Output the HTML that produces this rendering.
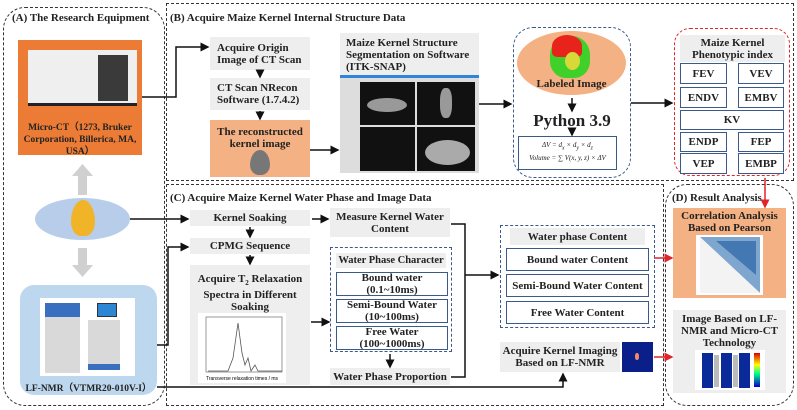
<!DOCTYPE html>
<html><head><meta charset="utf-8"><style>
body{margin:0;width:797px;height:410px;background:#fff;position:relative;overflow:hidden;font-family:"Liberation Serif",serif;font-weight:bold;color:#222}
div{position:absolute;box-sizing:border-box}
.g{background:#eeeeee;display:flex;align-items:center;justify-content:center;text-align:center;font-size:11px;line-height:12px}
.w{background:#fff;border:1.3px solid #3b5a8a;display:flex;align-items:center;justify-content:center;text-align:center;font-size:11px;line-height:12px}
.lab{font-size:11px;white-space:nowrap}
</style></head><body>
<!-- section frames -->
<div style="left:3px;top:7px;width:162px;height:399px;border:1.3px dashed #333;border-radius:22px"></div>
<div style="left:166px;top:3px;width:628px;height:178px;border:1.3px dashed #333"></div>
<div style="left:166px;top:184px;width:498px;height:222px;border:1.3px dashed #333"></div>
<div style="left:665px;top:184px;width:129px;height:222px;border:1.3px dashed #333;border-radius:22px"></div>
<div class="lab" style="left:12px;top:12px">(A) The Research Equipment</div>
<div class="lab" style="left:170px;top:12px">(B) Acquire Maize Kernel Internal Structure Data</div>
<div class="lab" style="left:170px;top:192px">(C) Acquire Maize Kernel Water Phase and Image Data</div>
<div class="lab" style="left:672px;top:192px">(D) Result Analysis</div>

<!-- A -->
<div style="left:18px;top:40px;width:124px;height:115px;background:#ec7c35"></div>
<div style="left:28px;top:50px;width:109px;height:56px;background:#efefef;border-bottom:3px solid #222"><div style="left:70px;top:5px;width:30px;height:46px;background:#3a3a3a"></div></div>
<div style="left:18px;top:122px;width:124px;text-align:center;font-size:9.5px;line-height:12px;color:#222">Micro-CT（1273, Bruker Corporation, Billerica, MA, USA）</div>
<div style="left:35px;top:198px;width:95px;height:42px;background:#b7cdea;border-radius:50%"></div>
<div style="left:71px;top:200px;width:24px;height:36px;background:#f1b328;border-radius:50% 50% 40% 40%/60% 60% 40% 40%"></div>
<div style="left:20px;top:285px;width:137px;height:110px;background:#bdd7ee;border-radius:14px"></div>
<div style="left:40px;top:298px;width:95px;height:78px;background:#fff"></div>
<div style="left:45px;top:303px;width:35px;height:70px;background:#d9d9d9;border-top:14px solid #3a6fc0"></div>
<div style="left:88px;top:320px;width:32px;height:50px;background:#d9d9d9;border-bottom:6px solid #3a6fc0"></div>
<div style="left:97px;top:303px;width:20px;height:14px;background:#2d86d4;border:1px solid #333"></div>
<div style="left:20px;top:380px;width:137px;text-align:center;font-size:9.5px">LF-NMR（VTMR20-010V-I）</div>

<!-- B -->
<div class="g" style="left:210px;top:37px;width:100px;height:33px;text-align:left;justify-content:flex-start;padding-left:7px">Acquire Origin<br>Image of CT Scan</div>
<div class="g" style="left:210px;top:78px;width:100px;height:32px;text-align:left;justify-content:flex-start;padding-left:7px">CT Scan NRecon<br>Software (1.7.4.2)</div>
<div style="left:210px;top:120px;width:100px;height:57px;background:#f4b183;text-align:center;font-size:11px;line-height:12px;padding-top:6px">The reconstructed<br>kernel image</div>
<div style="left:250px;top:150px;width:20px;height:25px;background:#777;border-radius:50% 50% 45% 45%/60% 60% 40% 40%"></div>
<div class="g" style="left:340px;top:33px;width:139px;height:43px;justify-content:flex-start;text-align:left;padding-left:6px">Maize Kernel Structure<br>Segmentation on Software<br>(ITK-SNAP)</div>
<div style="left:340px;top:75px;width:139px;height:3px;background:#2f86d8"></div>
<div style="left:340px;top:78px;width:139px;height:95px;background:#ddd"></div>
<div style="left:360px;top:82px;width:55px;height:43px;background:#111"></div>
<div style="left:417px;top:82px;width:58px;height:43px;background:#111"></div>
<div style="left:360px;top:127px;width:55px;height:44px;background:#111"></div>
<div style="left:417px;top:127px;width:58px;height:44px;background:#111"></div>
<div style="left:367px;top:98px;width:40px;height:14px;background:#999;border-radius:50%"></div>
<div style="left:440px;top:88px;width:12px;height:30px;background:#999;border-radius:40%"></div>
<div style="left:425px;top:140px;width:45px;height:25px;background:#aaa;border-radius:50%"></div>

<div style="left:513px;top:27px;width:118px;height:151px;border:1.3px dashed #3b5a8a;border-radius:20px"></div>
<div style="left:517px;top:31px;width:109px;height:64px;background:#f4b183;border-radius:50%"></div>
<div style="left:550px;top:36px;width:40px;height:42px;background:#3fd02a;border-radius:45% 45% 40% 40%"></div>
<div style="left:552px;top:35px;width:30px;height:22px;background:#e8231c;border-radius:50% 50% 20% 20%"></div>
<div style="left:565px;top:52px;width:15px;height:18px;background:#d9d83a;border-radius:50%"></div>
<div style="left:518px;top:78px;width:107px;text-align:center;font-size:11px">Labeled Image</div>
<div style="left:513px;top:111px;width:118px;text-align:center;font-size:17px">Python 3.9</div>
<div style="left:518px;top:136px;width:99px;height:34px;border:1.2px solid #3b5a8a;text-align:center;font-size:7px;font-weight:normal;font-style:italic;line-height:10px;padding-top:3px">ΔV = d<sub>x</sub> × d<sub>y</sub> × d<sub>z</sub><br>Volume = ∑ V(x, y, z) × ΔV</div>

<div style="left:674px;top:28px;width:116px;height:148px;border:1.3px dashed #e0242a;border-radius:16px"></div>
<div class="g" style="left:680px;top:35px;width:105px;height:27px">Maize Kernel<br>Phenotypic index</div>
<div class="w" style="left:680px;top:63px;width:47px;height:21px">FEV</div>
<div class="w" style="left:738px;top:63px;width:46px;height:21px">VEV</div>
<div class="w" style="left:680px;top:87px;width:47px;height:21px">ENDV</div>
<div class="w" style="left:738px;top:87px;width:46px;height:21px">EMBV</div>
<div class="w" style="left:680px;top:110px;width:104px;height:20px">KV</div>
<div class="w" style="left:680px;top:132px;width:47px;height:20px">ENDP</div>
<div class="w" style="left:738px;top:132px;width:46px;height:20px">FEP</div>
<div class="w" style="left:680px;top:153px;width:47px;height:21px">VEP</div>
<div class="w" style="left:738px;top:153px;width:46px;height:21px">EMBP</div>

<!-- C -->
<div class="g" style="left:190px;top:210px;width:120px;height:16px">Kernel Soaking</div>
<div class="g" style="left:190px;top:238px;width:120px;height:16px">CPMG Sequence</div>
<div style="left:190px;top:265px;width:120px;height:120px;background:#eeeeee;text-align:center;font-size:11px;line-height:12px;padding-top:8px">Acquire T<sub style="font-size:7px">2</sub> Relaxation<br>Spectra in Different Soaking<br>Time</div>
<div style="left:198px;top:313px;width:88px;height:70px;background:#fff">
<svg width="88" height="70"><rect x="8" y="4" width="76" height="55" fill="none" stroke="#555" stroke-width="0.6"/><polyline points="10,58 30,58 35,45 40,10 44,40 47,52 50,45 53,58 57,52 60,58 84,58" fill="none" stroke="#555" stroke-width="0.8"/><text x="44" y="67" font-size="5" text-anchor="middle" font-family="Liberation Sans" font-weight="normal">Transverse relaxation times / ms</text></svg></div>
<div class="g" style="left:330px;top:208px;width:120px;height:29px">Measure Kernel Water<br>Content</div>
<div style="left:330px;top:247px;width:122px;height:105px;border:1.3px dashed #3b5a8a"></div>
<div class="g" style="left:336px;top:253px;width:110px;height:15px;white-space:nowrap;font-size:10.5px">Water Phase Character</div>
<div class="w" style="left:336px;top:272px;width:112px;height:24px">Bound water<br>(0.1~10ms)</div>
<div class="w" style="left:336px;top:299px;width:112px;height:24px">Semi-Bound Water<br>(10~100ms)</div>
<div class="w" style="left:336px;top:326px;width:112px;height:24px">Free Water<br>(100~1000ms)</div>
<div class="g" style="left:330px;top:368px;width:120px;height:17px">Water Phase Proportion</div>
<div style="left:500px;top:225px;width:155px;height:103px;border:1.3px dashed #3b5a8a"></div>
<div class="g" style="left:510px;top:228px;width:135px;height:17px">Water phase Content</div>
<div class="w" style="left:506px;top:248px;width:143px;height:23px">Bound water Content</div>
<div class="w" style="left:506px;top:274px;width:143px;height:23px">Semi-Bound Water Content</div>
<div class="w" style="left:506px;top:301px;width:143px;height:23px">Free Water Content</div>
<div class="g" style="left:500px;top:342px;width:120px;height:30px">Acquire Kernel Imaging<br>Based on LF-NMR</div>
<div style="left:622px;top:342px;width:31px;height:30px;background:#0a1f8a"><div style="left:13px;top:11px;width:4px;height:7px;background:#e86;border-radius:40%"></div></div>

<!-- D -->
<div style="left:673px;top:208px;width:113px;height:90px;background:#f4b183;text-align:center;font-size:11px;line-height:12px;padding-top:2px">Correlation Analysis<br>Based on Pearson</div>
<div style="left:696px;top:235px;width:67px;height:60px;background:#fff">
<svg width="67" height="60"><polygon points="4,2 64,2 64,58" fill="#7fa6cf"/><polygon points="20,6 60,6 60,40" fill="#1d5a9e" opacity="0.6"/><polygon points="4,2 64,58 4,58" fill="#f3f3f3"/></svg></div>
<div class="g" style="left:673px;top:310px;width:113px;height:83px;align-items:flex-start;padding-top:3px">Image Based on LF-<br>NMR and Micro-CT<br>Technology</div>
<div style="left:695px;top:350px;width:70px;height:40px;background:#fff">
<svg width="70" height="40"><rect x="7" y="3" width="11" height="35" fill="#0a2a9a"/><rect x="26" y="3" width="11" height="35" fill="#0a2a9a"/><rect x="44" y="3" width="11" height="35" fill="#0a2a9a"/><rect x="19" y="5" width="5" height="32" fill="#bbb"/><rect x="38" y="5" width="5" height="32" fill="#bbb"/><defs><linearGradient id="cb" x1="0" y1="0" x2="0" y2="1"><stop offset="0" stop-color="#d00"/><stop offset=".35" stop-color="#ff0"/><stop offset=".6" stop-color="#0f8"/><stop offset="1" stop-color="#00c"/></linearGradient></defs><rect x="59" y="3" width="6" height="34" fill="url(#cb)"/></svg></div>

<svg style="position:absolute;left:0;top:0" width="797" height="410">
<defs><marker id="a" markerWidth="6" markerHeight="6" refX="5" refY="3" orient="auto"><path d="M0,0 L6,3 L0,6z" fill="#111"/></marker>
<marker id="r" markerWidth="6" markerHeight="6" refX="5" refY="3" orient="auto"><path d="M0,0 L6,3 L0,6z" fill="#e0242a"/></marker></defs>
<g stroke="#111" stroke-width="1.5" fill="none">
<polyline points="142,97 176,97 176,47 208,47" marker-end="url(#a)"/>
<line x1="260" y1="71" x2="260" y2="77" marker-end="url(#a)"/>
<line x1="260" y1="111" x2="260" y2="119" marker-end="url(#a)"/>
<line x1="310" y1="150" x2="338" y2="150" marker-end="url(#a)"/>
<line x1="479" y1="104" x2="511" y2="104" marker-end="url(#a)"/>
<line x1="572" y1="98" x2="572" y2="111" marker-end="url(#a)"/>
<line x1="572" y1="128" x2="572" y2="135" marker-end="url(#a)"/>
<line x1="631" y1="103" x2="672" y2="103" marker-end="url(#a)"/>
<line x1="130" y1="219" x2="188" y2="219" marker-end="url(#a)"/>
<polyline points="157,345 168,345 168,247 188,247" marker-end="url(#a)"/>
<polyline points="157,387 563,387 563,374" marker-end="url(#a)"/>
<line x1="250" y1="227" x2="250" y2="237" marker-end="url(#a)"/>
<line x1="250" y1="255" x2="250" y2="264" marker-end="url(#a)"/>
<line x1="312" y1="219" x2="328" y2="219" marker-end="url(#a)"/>
<line x1="311" y1="322" x2="329" y2="322" marker-end="url(#a)"/>
<line x1="390" y1="354" x2="390" y2="367" marker-end="url(#a)"/>
<polyline points="451,224 465,224 465,377 451,377"/>
<line x1="465" y1="275" x2="498" y2="275" marker-end="url(#a)"/>
</g>
<g stroke="#e0242a" stroke-width="1.5">
<line x1="765" y1="178" x2="765" y2="207" marker-end="url(#r)"/>
<line x1="654" y1="258" x2="672" y2="258" marker-end="url(#r)"/>
<line x1="654" y1="357" x2="672" y2="357" marker-end="url(#r)"/>
</g>
<g fill="#d0d0d0">
<rect x="78" y="175" width="9" height="20"/><polygon points="72,176 93,176 82.5,164"/>
<rect x="78" y="248" width="9" height="18"/><polygon points="72,265 93,265 82.5,277"/>
</g>
</svg>
</body></html>
